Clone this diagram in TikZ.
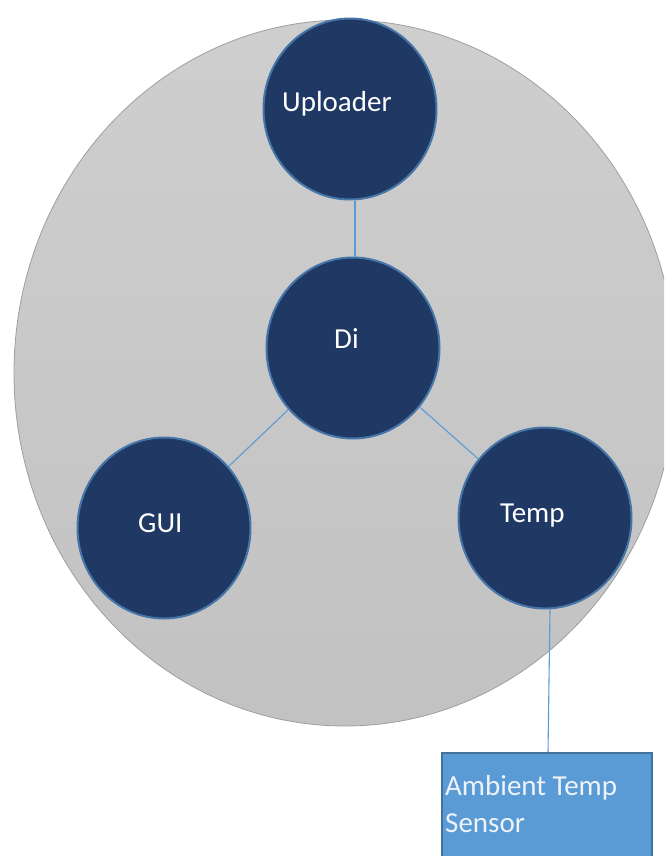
\documentclass[tikz,border=0pt]{standalone}
\usepackage{fontspec}
\setmainfont{Carlito}
\usetikzlibrary{shapes.geometric}
\definecolor{navy}{HTML}{1F3864}
\definecolor{rimblue}{HTML}{4675A8}
\definecolor{linkblue}{HTML}{5B9BD5}
\definecolor{boxblue}{HTML}{5B9BD5}
\definecolor{boxedge}{HTML}{41719C}
\definecolor{boxtext}{HTML}{EEF3FA}
\tikzset{
  hub/.style={ellipse, draw=rimblue, line width=2pt, fill=navy, inner sep=0pt,
              minimum width=173pt, minimum height=181pt},
  hubtext/.style={anchor=base west, inner sep=0pt, text=white, font=\fontsize{29}{35}\selectfont},
  link/.style={draw=linkblue, line width=1.1pt},
}
\begin{document}
\begin{tikzpicture}[x=1pt, y=-1pt]
  \useasboundingbox (0,0) rectangle (664,856);
  \clip (0,0) rectangle (664,856);
  % enclosing grey disc
  \shade[top color=gray!38, bottom color=gray!48, draw=gray!75, line width=0.8pt]
    (345,373) ellipse [x radius=331, y radius=353];
  % components
  \node[hub] (up)   at (350,109) {};
  \node[hub] (di)   at (353,348) {};
  \node[hub] (gui)  at (164,528) {};
  \node[hub] (temp) at (545,518) {};
  % sensor box
  \node[draw=boxedge, line width=2pt, fill=boxblue, minimum width=210pt, minimum height=130pt,
        anchor=north, inner sep=0pt] (sensor) at (547,752) {};
  % connectors
  \draw[link] ([xshift=5pt]up.south) -- ([xshift=2pt]di.north);
  \draw[link] (di) -- (gui);
  \draw[link] (di) -- (temp);
  \draw[link] ([xshift=5pt]temp.south) -- ([xshift=1pt]sensor.north);
  % labels
  \node[hubtext] (tup)   at (282,112) {Uploader};
  \node[hubtext] (tdi)   at (334,348) {Di};
  \node[hubtext] (tgui)  at (138,532) {GUI};
  \node[hubtext] (ttemp) at (500,522) {Temp};
  \node[hubtext, text=boxtext] (ts1) at (445,795) {Ambient Temp};
  \node[hubtext, text=boxtext] (ts2) at (445,832) {Sensor};
\end{tikzpicture}
\end{document}
